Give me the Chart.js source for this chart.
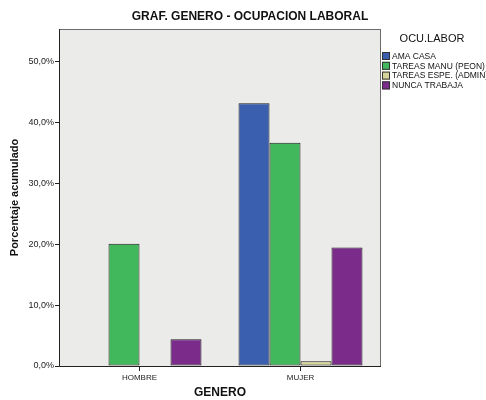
<!DOCTYPE html>
<html>
<head>
<meta charset="utf-8">
<script src="https://cdn.jsdelivr.net/npm/chart.js@4.4.0/dist/chart.umd.min.js"></script>
<style>
  html, body { margin: 0; padding: 0; background: #fff; }
  #wrap { width: 486px; height: 400px; position: relative; }
</style>
</head>
<body>
<div id="wrap"><canvas id="ocupChart"></canvas></div>
<script>
// categories and series (percent)
const generos = ['HOMBRE', 'MUJER'];
const amaCasa = [null, 43.2];
const tareasManu = [20.1, 36.7];
const tareasEspe = [null, 0.8];
const nuncaTrabaja = [4.4, 19.5];
const yTicks = [0, 10, 20, 30, 40, 50];

const FONT = '"Liberation Sans", Arial, sans-serif';

// plot background, frame, title and legend drawn by hand like the SPSS output
const spssLook = {
  id: 'spssLook',
  beforeDatasetsDraw(chart) {
    const { ctx, chartArea: a } = chart;
    ctx.save();
    ctx.fillStyle = '#ebebe9';
    ctx.fillRect(a.left, a.top, a.right - a.left, a.bottom - a.top);
    ctx.restore();
  },
  afterDraw(chart) {
    const { ctx, chartArea: a } = chart;
    ctx.save();
    ctx.strokeStyle = '#6b6b6b';
    ctx.lineWidth = 1;
    ctx.strokeRect(a.left + 0.5, a.top + 0.5, a.right - a.left - 1, a.bottom - a.top);
    ctx.strokeStyle = '#222';
    ctx.beginPath();
    ctx.moveTo(a.left + 0.5, a.top);
    ctx.lineTo(a.left + 0.5, a.bottom + 0.5);
    ctx.lineTo(a.right, a.bottom + 0.5);
    ctx.stroke();

    // title
    ctx.fillStyle = '#111';
    ctx.font = 'bold 12px ' + FONT;
    ctx.textAlign = 'center';
    ctx.textBaseline = 'middle';
    ctx.fillText('GRAF. GENERO - OCUPACION LABORAL', 250, 17);

    // legend
    ctx.font = '11px ' + FONT;
    ctx.fillText('OCU.LABOR', 432, 39);
    ctx.font = '8.5px ' + FONT;
    ctx.textAlign = 'left';
    chart.data.datasets.forEach((ds, i) => {
      const y = 56 + i * 9.8;
      ctx.fillStyle = ds.backgroundColor;
      ctx.fillRect(382, y - 4, 8, 8);
      ctx.strokeStyle = '#333';
      ctx.strokeRect(382.5, y - 3.5, 7, 7);
      ctx.fillStyle = '#111';
      ctx.fillText(ds.label, 392, y + 0.5);
    });
    ctx.restore();
  }
};

const barStyle = { borderWidth: 1, borderColor: '#1e1e1e', borderSkipped: false,
  categoryPercentage: 0.77, barPercentage: 1 };

new Chart(document.getElementById('ocupChart'), {
  type: 'bar',
  data: {
    labels: generos,
    datasets: [
      { label: 'AMA CASA', data: amaCasa, backgroundColor: '#3a5fae', ...barStyle },
      { label: 'TAREAS MANU (PEON)', data: tareasManu, backgroundColor: '#41b85c', ...barStyle },
      { label: 'TAREAS ESPE. (ADMIN)', data: tareasEspe, backgroundColor: '#d5d49b', ...barStyle },
      { label: 'NUNCA TRABAJA', data: nuncaTrabaja, backgroundColor: '#7b2b8a', ...barStyle }
    ]
  },
  plugins: [spssLook],
  options: {
    responsive: true,
    maintainAspectRatio: false,
    animation: false,
    layout: { padding: { left: 0, right: 105, top: 29, bottom: 0 } },
    plugins: {
      legend: { display: false },
      title: { display: false },
      tooltip: { enabled: false }
    },
    scales: {
      x: {
        grid: { display: true, offset: false, drawOnChartArea: false, tickLength: 5, color: '#222' },
        border: { display: false },
        ticks: { color: '#222', font: { family: FONT, size: 8 }, padding: 2, maxRotation: 0 },
        title: { display: true, text: 'GENERO', color: '#111',
          font: { family: FONT, size: 12, weight: 'bold' }, padding: { top: 4, bottom: 0 } },
        afterFit(scale) { scale.height = 34; }
      },
      y: {
        min: 0,
        max: 55.4,
        afterBuildTicks(scale) { scale.ticks = yTicks.map(v => ({ value: v })); },
        grid: { display: true, drawOnChartArea: false, tickLength: 4, color: '#222' },
        border: { display: false },
        ticks: { color: '#222', font: { family: FONT, size: 9 }, padding: 1,
          callback: v => v.toFixed(1).replace('.', ',') + '%' },
        title: { display: true, text: 'Porcentaje acumulado', color: '#111',
          font: { family: FONT, size: 11, weight: 'bold' }, padding: { top: 8, bottom: 0 } },
        afterFit(scale) { scale.width = 59; }
      }
    }
  }
});
</script>
</body>
</html>
